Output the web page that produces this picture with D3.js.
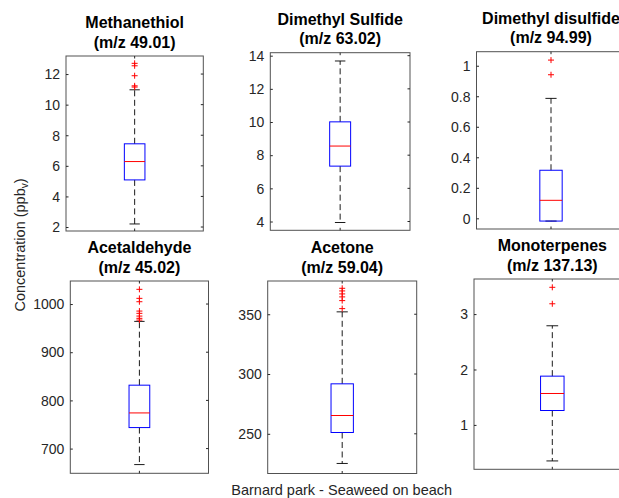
<!DOCTYPE html>
<html>
<head>
<meta charset="utf-8">
<script src="https://cdn.jsdelivr.net/npm/d3@7"></script>
<style>
  html, body { margin: 0; padding: 0; background: #fff; }
  svg { display: block; font-family: "Liberation Sans", Arial, Helvetica, sans-serif; }
</style>
</head>
<body>
<svg id="chart" width="619" height="498"></svg>
<script>
// Compound names and their mass-to-charge labels
const compounds = ["Methanethiol", "Dimethyl Sulfide", "Dimethyl disulfide",
                   "Acetaldehyde", "Acetone", "Monoterpenes"];
const massLabels = ["(m/z 49.01)", "(m/z 63.02)", "(m/z 94.99)",
                    "(m/z 45.02)", "(m/z 59.04)", "(m/z 137.13)"];
const category = "Barnard park - Seaweed on beach";

// Box-plot statistics (ppbv)
const whiskerLow  = [2.2, 3.94, -0.018, 666.8, 225.2, 0.35];
const quartile1   = [5.08, 7.34, -0.018, 743.6, 251.1, 1.26];
const medians     = [6.28, 8.55, 0.118, 774, 265.3, 1.567];
const quartile3   = [7.44, 10.01, 0.315, 831.6, 291.8, 1.88];
const whiskerHigh = [10.97, 13.68, 0.786, 964, 352, 2.789];
const outliers = [
  [12.70, 12.54, 11.89, 11.23, 11.15],
  [],
  [1.037, 0.941],
  [1030.5, 1011.8, 1004.8, 985.4, 980.7, 975, 970.3, 966.7],
  [371.7, 369.5, 367, 364.5, 361.4, 354.7],
  [3.483, 3.186]
];

// Axis limits and tick labels for each panel
const yLimits = [[1.74, 13.18], [3.47, 14.18], [-0.07, 1.092],
                 [648.7, 1047.8], [216.8, 377.8], [0.199, 3.633]];
const yTicks = [[2, 4, 6, 8, 10, 12], [4, 6, 8, 10, 12, 14],
                [0, 0.2, 0.4, 0.6, 0.8, 1], [700, 800, 900, 1000],
                [250, 300, 350], [1, 2, 3]];

// Panel rectangles [left, top, right, bottom]
const panels = [
  [66, 56, 203.3, 231],
  [270.3, 52.7, 410, 230.3],
  [476.5, 51.7, 625.5, 229],
  [70.3, 281, 208.5, 473.3],
  [267.7, 281, 416.7, 473.5],
  [474, 279, 630.6, 469.3]
];

const svg = d3.select("#chart");
const axisColor = "#262626";

compounds.forEach((name, i) => {
  const [x0, y0, x1, y1] = panels[i];
  const x = d3.scaleLinear().domain([0.5, 1.5]).range([x0, x1]);
  const y = d3.scaleLinear().domain(yLimits[i]).range([y1, y0]);
  const g = svg.append("g");

  // Axes box
  g.append("rect")
    .attr("x", x0).attr("y", y0)
    .attr("width", x1 - x0).attr("height", y1 - y0)
    .attr("fill", "#fff").attr("stroke", axisColor).attr("stroke-width", 1)
    .attr("stroke-opacity", 0.8);

  // Left axis ticks and labels (ticks point inward)
  const left = d3.axisLeft(y).tickValues(yTicks[i]).tickSizeInner(-2.5).tickSizeOuter(0)
    .tickPadding(6).tickFormat(d3.format("~g"));
  const ax = g.append("g").attr("transform", `translate(${x0},0)`).call(left);
  ax.select(".domain").remove();
  ax.selectAll(".tick line").attr("stroke", axisColor);
  ax.selectAll(".tick text")
    .attr("font-size", 14).attr("fill", axisColor)
    .attr("x", -6).attr("dy", "0.34em");

  // Right-side mirrored ticks
  g.append("g").selectAll("line").data(yTicks[i]).join("line")
    .attr("x1", x1).attr("x2", x1 - 2.5)
    .attr("y1", d => y(d)).attr("y2", d => y(d))
    .attr("stroke", axisColor);

  // Category tick on top and bottom
  [[y1, y1 - 2.5], [y0, y0 + 2.5]].forEach(([a, b]) => {
    g.append("line").attr("x1", x(1)).attr("x2", x(1))
      .attr("y1", a).attr("y2", b).attr("stroke", axisColor);
  });

  const boxHalf = 0.075, capHalf = 0.0375;

  // Whiskers
  g.append("line").attr("x1", x(1)).attr("x2", x(1))
    .attr("y1", y(quartile3[i])).attr("y2", y(whiskerHigh[i]))
    .attr("stroke", "#000").attr("stroke-width", 0.9).attr("stroke-dasharray", "6,3.5");
  g.append("line").attr("x1", x(1)).attr("x2", x(1))
    .attr("y1", y(quartile1[i])).attr("y2", y(whiskerLow[i]))
    .attr("stroke", "#000").attr("stroke-width", 0.9).attr("stroke-dasharray", "6,3.5");

  // Whisker caps
  [whiskerHigh[i], whiskerLow[i]].forEach(v => {
    g.append("line").attr("x1", x(1 - capHalf)).attr("x2", x(1 + capHalf))
      .attr("y1", y(v)).attr("y2", y(v))
      .attr("stroke", "#000").attr("stroke-width", 0.9);
  });

  // Interquartile box
  g.append("rect")
    .attr("x", x(1 - boxHalf)).attr("y", y(quartile3[i]))
    .attr("width", x(1 + boxHalf) - x(1 - boxHalf))
    .attr("height", y(quartile1[i]) - y(quartile3[i]))
    .attr("fill", "none").attr("stroke", "#0000ff").attr("stroke-width", 1);

  // Median
  g.append("line").attr("x1", x(1 - boxHalf)).attr("x2", x(1 + boxHalf))
    .attr("y1", y(medians[i])).attr("y2", y(medians[i]))
    .attr("stroke", "#ff0000").attr("stroke-width", 1);

  // Outliers as red plus markers
  const s = 3;
  g.append("g").selectAll("path").data(outliers[i]).join("path")
    .attr("d", d => `M${x(1) - s},${y(d)}H${x(1) + s}M${x(1)},${y(d) - s}V${y(d) + s}`)
    .attr("stroke", "#ff0000").attr("stroke-width", 1).attr("fill", "none");

  // Two-line bold title
  const cx = (x0 + x1) / 2;
  g.append("text").attr("x", cx).attr("y", y0 - 28)
    .attr("text-anchor", "middle").attr("font-size", 16).attr("font-weight", "bold")
    .attr("fill", "#000").text(name);
  g.append("text").attr("x", cx).attr("y", y0 - 8.5)
    .attr("text-anchor", "middle").attr("font-size", 16).attr("font-weight", "bold")
    .attr("fill", "#000").text(massLabels[i]);
});

// Shared y-axis label
const yl = svg.append("text")
  .attr("transform", "translate(24.5,245) rotate(-90)")
  .attr("text-anchor", "middle").attr("font-size", 14.5).attr("fill", axisColor);
yl.append("tspan").text("Concentration (ppb");
yl.append("tspan").attr("font-size", 10).attr("dy", 3.5).text("v");
yl.append("tspan").attr("dy", -3.5).text(")");

// Shared category label
svg.append("text")
  .attr("x", 341.7).attr("y", 494.5)
  .attr("text-anchor", "middle").attr("font-size", 14.5).attr("fill", axisColor)
  .text(category);
</script>
</body>
</html>
